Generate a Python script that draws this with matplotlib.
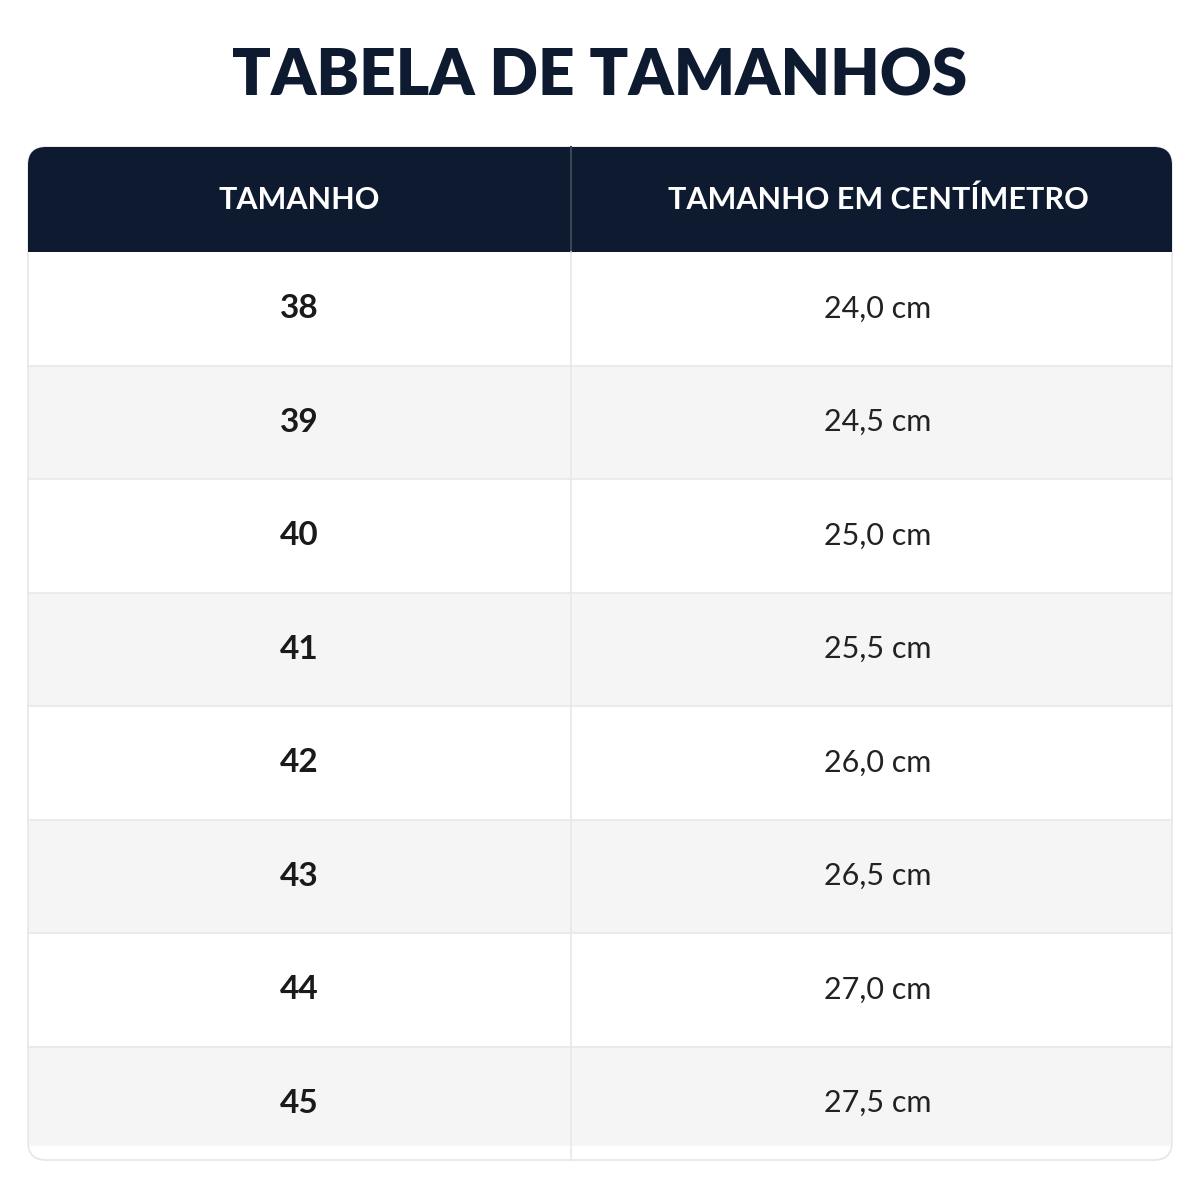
import matplotlib.pyplot as plt
from matplotlib.patches import FancyBboxPatch, Rectangle

title = "TABELA DE TAMANHOS"
headers = ["TAMANHO", "TAMANHO EM CENTÍMETRO"]
sizes = ["38", "39", "40", "41", "42", "43", "44", "45"]
lengths = ["24,0 cm", "24,5 cm", "25,0 cm", "25,5 cm", "26,0 cm", "26,5 cm", "27,0 cm", "27,5 cm"]

navy = "#0d1a30"
plt.rcParams['font.family'] = ['Lato', 'DejaVu Sans']

fig = plt.figure(figsize=(12, 12), dpi=100)
ax = fig.add_axes([0, 0, 1, 1])
ax.set_xlim(0, 1200)
ax.set_ylim(1200, 0)
ax.axis('off')

left, right, mid = 28, 1172, 571
top, head_bot, bottom = 147, 252, 1160
row_h = (bottom - head_bot) / len(sizes)

# outer rounded card (body)
ax.add_patch(FancyBboxPatch((left, top), right - left, bottom - top,
                            boxstyle="round,pad=0,rounding_size=18",
                            fc="white", ec="#e6e6e6", lw=1.2, zorder=1))
# header with rounded top
ax.add_patch(FancyBboxPatch((left, top), right - left, head_bot - top,
                            boxstyle="round,pad=0,rounding_size=18",
                            fc=navy, ec="none", zorder=2))
ax.add_patch(Rectangle((left, top + 40), right - left, head_bot - top - 40,
                       fc=navy, ec="none", zorder=2))
ax.plot([mid, mid], [top, head_bot], color="#3a4558", lw=1.5, zorder=3)

for i, (s, l) in enumerate(zip(sizes, lengths)):
    y0 = head_bot + i * row_h
    if i % 2 == 1:
        h = row_h if i < len(sizes) - 1 else row_h - 14
        ax.add_patch(Rectangle((left + 1, y0), right - left - 2, h,
                               fc="#f5f5f5", ec="none", zorder=1.5))
    if i > 0:
        ax.plot([left, right], [y0, y0], color="#e8e8e8", lw=1.2, zorder=3)
    yc = y0 + row_h / 2
    ax.text(299, yc, s, ha='center', va='center', fontsize=24,
            fontweight='bold', color="#1a1a1a", zorder=4)
    ax.text(878, yc, l, ha='center', va='center', fontsize=22,
            color="#222222", zorder=4)

ax.plot([mid, mid], [head_bot, bottom], color="#e8e8e8", lw=1.2, zorder=3)

ax.text(600, 77, title, ha='center', va='center', fontsize=46,
        fontweight='heavy', color=navy)
ax.text(299, 200, headers[0], ha='center', va='center', fontsize=22,
        fontweight='bold', color="white", zorder=4)
ax.text(878, 200, headers[1], ha='center', va='center', fontsize=22,
        fontweight='bold', color="white", zorder=4)

fig.savefig("out.png", dpi=100)
